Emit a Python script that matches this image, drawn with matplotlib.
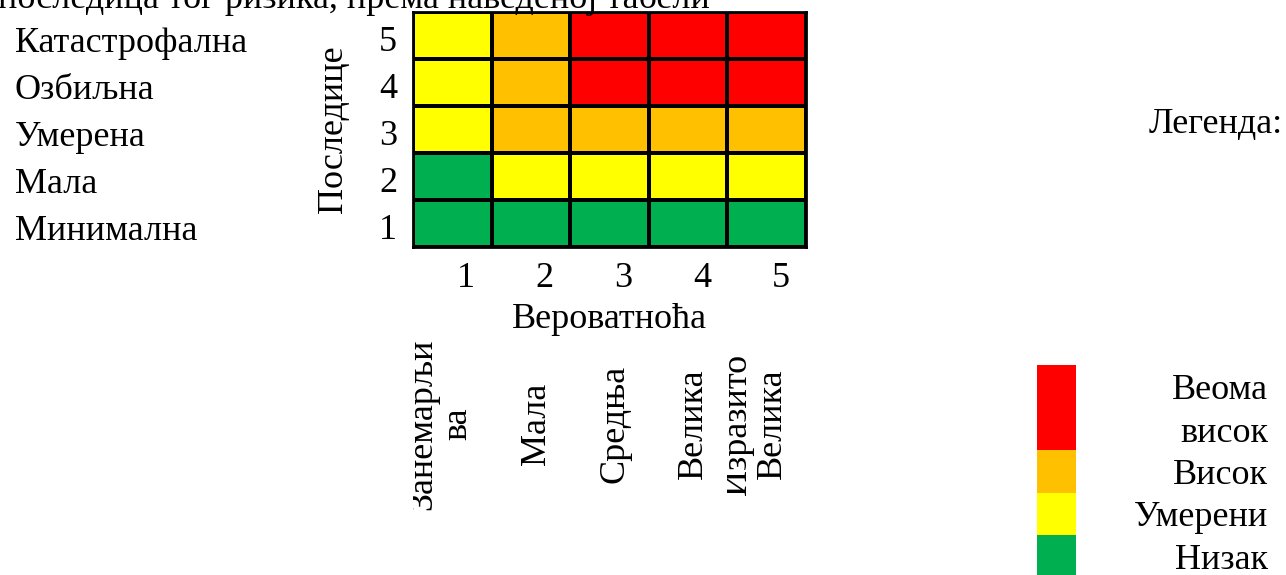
import numpy as np
import matplotlib
matplotlib.use("Agg")
import matplotlib.pyplot as plt
from matplotlib.colors import ListedColormap, BoundaryNorm
from matplotlib.patches import Rectangle
from matplotlib.transforms import blended_transform_factory, ScaledTranslation

plt.rcParams['font.family'] = ['Liberation Serif', 'DejaVu Serif']

# data
probability = [1, 2, 3, 4, 5]
probability_names = ["Занемарљи\nва", "Мала", "Средња", "Велика", "Изразито\nВелика"]
consequence = [1, 2, 3, 4, 5]
consequence_names = ["Минимална", "Мала", "Умерена", "Озбиљна", "Катастрофална"]
# risk level per cell, rows = consequence 1..5, cols = probability 1..5
risk = np.array([
    [1, 1, 1, 1, 1],
    [1, 2, 2, 2, 2],
    [2, 3, 3, 3, 3],
    [2, 3, 4, 4, 4],
    [2, 3, 4, 4, 4],
])
level_names = ["Веома\nвисок", "Висок", "Умерени", "Низак"]
level_colors = ["#FF0000", "#FFC000", "#FFFF00", "#00B050"]
title = "последица тог ризика, према наведеној табели"

W, H = 1286, 575
FS = 26

fig = plt.figure(figsize=(W / 100, H / 100), dpi=100)


def px(x, y):
    # pixel (from top-left) -> figure fraction
    return x / W, 1 - y / H


def box(x0, y0, x1, y1):
    return [x0 / W, 1 - y1 / H, (x1 - x0) / W, (y1 - y0) / H]


def shift(dx, dy):
    return ScaledTranslation(dx / 100, -dy / 100, fig.dpi_scale_trans)


# heat map
ax = fig.add_axes(box(413, 12, 806, 247))
cmap = ListedColormap(level_colors[::-1])
norm = BoundaryNorm([0.5, 1.5, 2.5, 3.5, 4.5], cmap.N)
xe = np.arange(len(probability) + 1) + 0.5
ye = np.arange(len(consequence) + 1) + 0.5
ax.pcolormesh(xe, ye, risk, cmap=cmap, norm=norm, edgecolors="black", linewidth=1.5)
ax.set_xlim(0.5, 5.5)
ax.set_ylim(0.5, 5.5)
for s in ax.spines.values():
    s.set_linewidth(2)
ax.set_xticks(probability)
ax.set_xticklabels([str(p) for p in probability])
ax.set_yticks(consequence)
ax.set_yticklabels([str(c) for c in consequence])
ax.tick_params(axis="both", length=0, labelsize=FS)
ax.tick_params(axis="y", pad=11.5)
ax.tick_params(axis="x", pad=10.8)
# numbers sit a little off the cell centres, as in the source table
for lbl in ax.get_xticklabels():
    lbl.set_transform(lbl.get_transform() + shift(14, 0))
for lbl in ax.get_yticklabels():
    lbl.set_transform(lbl.get_transform() + shift(0, 3))
ax.set_xlabel("Вероватноћа", fontsize=FS)
ax.xaxis.set_label_coords(0.5, -0.238)
ax.set_ylabel("Последице", fontsize=FS)
ax.yaxis.set_label_coords(-0.16, 0.5)

# consequence names on the left
tr_left = blended_transform_factory(fig.transFigure, ax.transData)
for c, name in zip(consequence, consequence_names):
    fig.text(15 / W, c - 0.36, name, fontsize=FS, ha="left", va="baseline",
             transform=tr_left)

# rotated probability names under the columns, clipped to their cell width
tr_bot = blended_transform_factory(ax.transData, fig.transFigure)
for p, name in zip(probability, probability_names):
    parts = name.split("\n")
    clip = Rectangle((p - 0.5, 0), 1, 1, transform=tr_bot)
    for i, part in enumerate(parts):
        back = len(parts) - 1 - i
        t = fig.text(p + (14 - 35 * back) / 78.6, 1 - 424 / H, part,
                     fontsize=FS, rotation=90, rotation_mode="anchor",
                     ha="center", va="baseline", transform=tr_bot)
        t.set_clip_path(clip)

# cut-off caption at the top
fig.text(*px(-2, 8), title, fontsize=FS, ha="left", va="baseline")

# legend
fig.text(*px(1283, 133), "Легенда:", fontsize=FS, ha="right", va="baseline")
lax = fig.add_axes(box(1037, 365, 1076, 577.5))
lines = [n.count("\n") + 1 for n in level_names]
total = sum(lines)
top = 0
for col, n in zip(level_colors, lines):
    lax.bar(0, n, bottom=top, width=1, color=col)
    top += n
lax.set_xlim(-0.5, 0.5)
lax.set_ylim(total, 0)
lax.axis("off")

tr_leg = blended_transform_factory(fig.transFigure, lax.transData)
top = 0
for name, n in zip(level_names, lines):
    for j, part in enumerate(name.split("\n")):
        fig.text(1268 / W, top + j + 0.8, part, fontsize=FS, ha="right",
                 va="baseline", transform=tr_leg)
    top += n

fig.savefig("out.png", dpi=100)
